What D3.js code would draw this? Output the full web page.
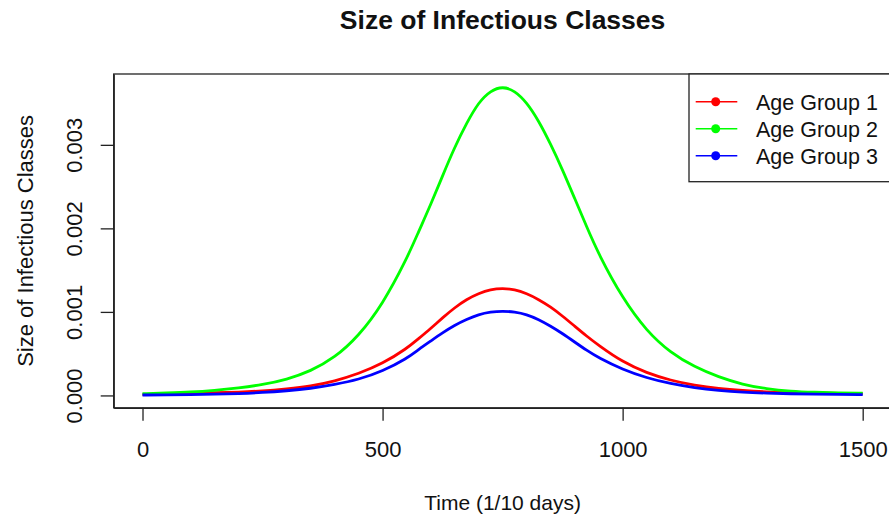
<!DOCTYPE html>
<html>
<head>
<meta charset="utf-8">
<script src="https://cdn.jsdelivr.net/npm/d3@7"></script>
<style>
  body { margin: 0; background: #fff; }
  text { font-family: "Liberation Sans", Arial, sans-serif; fill: #111; }
</style>
</head>
<body>
<svg id="chart"></svg>
<script>
const width = 889;
const height = 519;

// time in 1/10 days
const times = [0, 50, 100, 150, 200, 250, 300, 350, 400, 450, 500,
               550, 575, 600, 625, 650, 675, 700, 725, 750, 775, 800, 825, 850, 875, 900, 925, 950,
               1000, 1050, 1100, 1150, 1200, 1250, 1300, 1350, 1400, 1450, 1500];

const group1 = [0.00001, 0.000018, 0.000026, 0.000032, 0.00004, 0.000053, 0.000078, 0.00011, 0.00017, 0.00026, 0.00038,
                0.00056, 0.00068, 0.0008, 0.00093, 0.00105, 0.00115, 0.00122, 0.00127, 0.001284,
                0.00127, 0.00122, 0.00115, 0.00106, 0.00095, 0.00083, 0.00071, 0.0006,
                0.0004, 0.00027, 0.00018, 0.00012, 0.00008, 0.000058, 0.000042, 0.000034, 0.000029, 0.000024, 0.00002];

const group2 = [0.00002, 0.00003, 0.00004, 0.00006, 0.00009, 0.000128, 0.00019, 0.00029, 0.00045, 0.00071, 0.00109,
                0.00163, 0.00196, 0.00228, 0.00263, 0.00297, 0.00326, 0.00351, 0.00365, 0.0037,
                0.00365, 0.00351, 0.00329, 0.00301, 0.0027, 0.00236, 0.00202, 0.00169,
                0.00116, 0.00077, 0.00051, 0.00034, 0.00022, 0.00013, 0.000078, 0.00005, 0.000038, 0.00003, 0.000028];

const group3 = [0.000005, 0.000007, 0.00001, 0.000015, 0.000022, 0.000034, 0.000055, 0.000083, 0.00013, 0.00019, 0.00029,
                0.00044, 0.00055, 0.00065, 0.00075, 0.00084, 0.00091, 0.00097, 0.001, 0.00101,
                0.001, 0.00097, 0.00091, 0.00083, 0.00074, 0.00064, 0.00054, 0.00045,
                0.00031, 0.00021, 0.00014, 0.000092, 0.00006, 0.000038, 0.000027, 0.00002, 0.000015, 0.000012, 0.00001];

const seriesNames = ['Age Group 1', 'Age Group 2', 'Age Group 3'];
const seriesColors = ['#ff0000', '#00ff00', '#0000ff'];
const xTicks = [0, 500, 1000, 1500];
const yTicks = [0, 0.001, 0.002, 0.003];

const svg = d3.select('#chart').attr('width', width).attr('height', height);

// R style 4% padding on both axes
const xPad = 0.04 * 1500;
const yMax = d3.max(group2);
const yPad = 0.04 * yMax;

const plotLeft = 113.7, plotRight = 891.5, plotTop = 74, plotBottom = 407.8;

const x = d3.scaleLinear().domain([-xPad, 1500 + xPad]).range([plotLeft, plotRight]);
const y = d3.scaleLinear().domain([-yPad, yMax + yPad]).range([plotBottom, plotTop]);

// title
svg.append('text')
   .attr('x', (plotLeft + plotRight) / 2)
   .attr('y', 29)
   .attr('text-anchor', 'middle')
   .style('font-size', '26.5px')
   .style('font-weight', 'bold')
   .text('Size of Infectious Classes');

// curves (basis smooths out reading noise)
const line = d3.line()
    .x((d, i) => x(times[i]))
    .y(d => y(d))
    .curve(d3.curveBasis);

[group1, group2, group3].forEach((s, i) => {
    svg.append('path')
       .datum(s)
       .attr('fill', 'none')
       .attr('stroke', seriesColors[i])
       .attr('stroke-width', 2.8)
       .attr('d', line);
});

// box
svg.append('rect')
   .attr('x', plotLeft).attr('y', plotTop)
   .attr('width', plotRight - plotLeft).attr('height', plotBottom - plotTop)
   .attr('fill', 'none').attr('stroke', '#222').attr('stroke-width', 1.3);

// x axis
const xAxis = svg.append('g')
    .attr('transform', `translate(0, ${plotBottom})`)
    .call(d3.axisBottom(x).tickValues(xTicks).tickSize(13).tickSizeOuter(0).tickFormat(d3.format('d')));
xAxis.select('.domain').attr('stroke', '#222').attr('stroke-width', 1.3);
xAxis.selectAll('.tick line').attr('stroke', '#222').attr('stroke-width', 1.3);
xAxis.selectAll('.tick text')
     .attr('y', 49).attr('dy', 0)
     .style('font-size', '22px').attr('fill', '#111');

// y axis
const yAxis = svg.append('g')
    .attr('transform', `translate(${plotLeft}, 0)`)
    .call(d3.axisLeft(y).tickValues(yTicks).tickSize(13).tickSizeOuter(0).tickFormat(d3.format('.3f')));
yAxis.select('.domain').attr('stroke', '#222').attr('stroke-width', 1.3);
yAxis.selectAll('.tick line').attr('stroke', '#222').attr('stroke-width', 1.3);
yAxis.selectAll('.tick text')
     .attr('x', 0).attr('dy', 0)
     .attr('text-anchor', 'middle')
     .attr('transform', 'translate(-32, 0) rotate(-90)')
     .style('font-size', '22px').attr('fill', '#111');

// axis titles
svg.append('text')
   .attr('x', (plotLeft + plotRight) / 2)
   .attr('y', 510)
   .attr('text-anchor', 'middle')
   .style('font-size', '21px')
   .text('Time (1/10 days)');

svg.append('text')
   .attr('transform', `translate(33, ${(plotTop + plotBottom) / 2}) rotate(-90)`)
   .attr('text-anchor', 'middle')
   .style('font-size', '22px')
   .text('Size of Infectious Classes');

// legend
const legend = svg.append('g');
legend.append('rect')
      .attr('x', 689).attr('y', plotTop)
      .attr('width', plotRight - 689).attr('height', 107.7)
      .attr('fill', '#fff').attr('stroke', '#222').attr('stroke-width', 1.3);

const rowY = d3.scalePoint().domain(seriesNames).range([101.7, 155.7]);

seriesNames.forEach((name, i) => {
    const g = legend.append('g').attr('transform', `translate(0, ${rowY(name)})`);
    g.append('line')
     .attr('x1', 695.7).attr('x2', 737.3)
     .attr('stroke', seriesColors[i]).attr('stroke-width', 1.5);
    g.append('circle')
     .attr('cx', 715.7).attr('r', 4.5)
     .attr('fill', seriesColors[i]);
    g.append('text')
     .attr('x', 756).attr('y', 8.3)
     .style('font-size', '21.5px')
     .text(name);
});
</script>
</body>
</html>
